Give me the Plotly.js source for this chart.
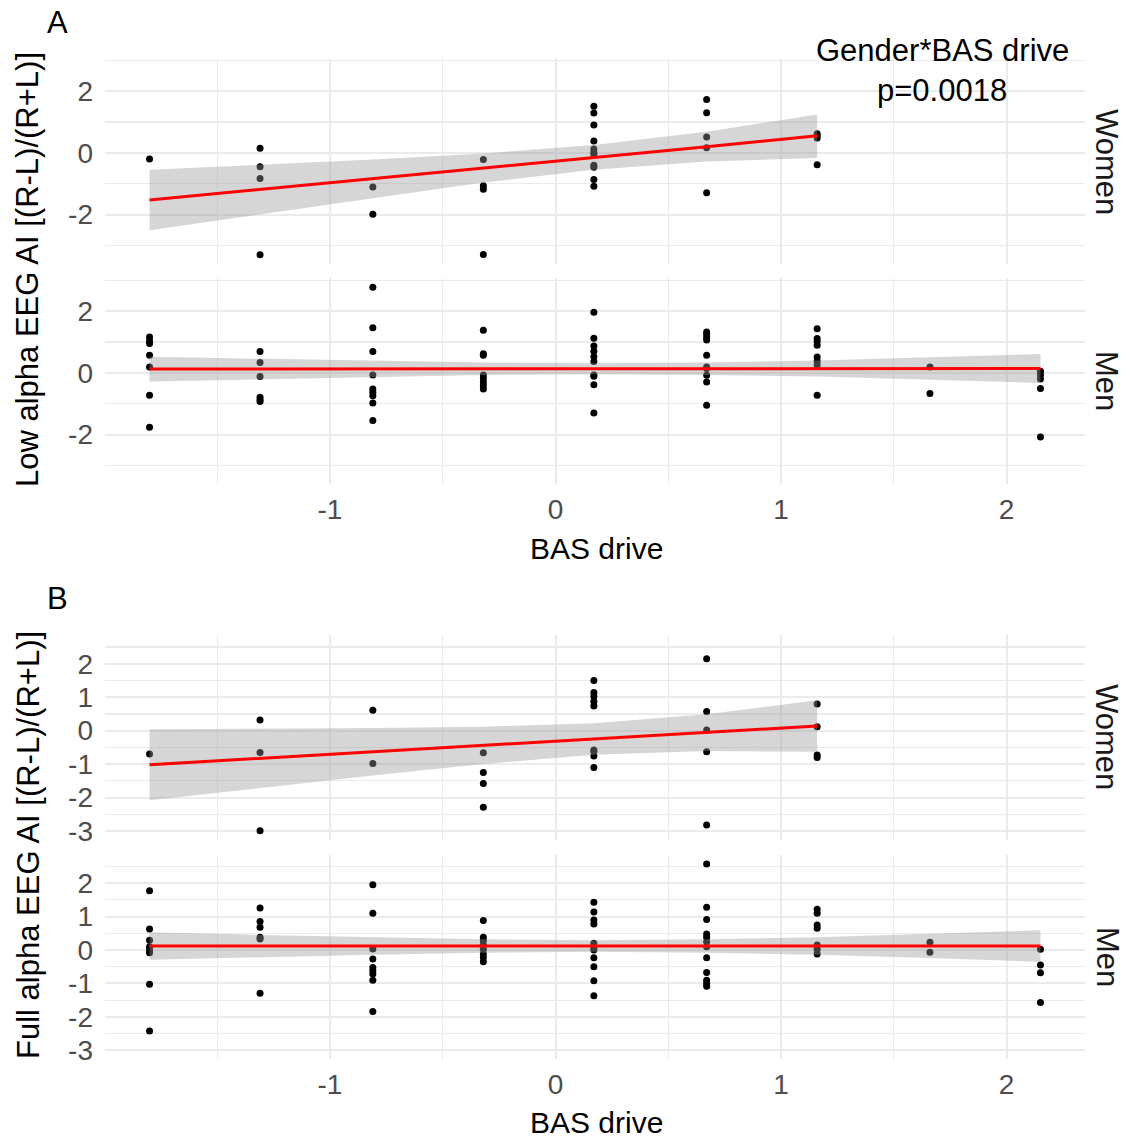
<!DOCTYPE html>
<html>
<head>
<meta charset="utf-8">
<script src="https://cdn.plot.ly/plotly-3.0.1.min.js"></script>
<style>html,body{margin:0;padding:0;background:#fff;} #chart{width:1129px;height:1141px;}</style>
</head>
<body>
<div id="chart"></div>
<script>
// BAS drive (standardised) levels
const basLevels = [-1.80, -1.31, -0.81, -0.32, 0.17, 0.67, 1.16, 1.66, 2.15];

// Panel A: Low alpha EEG AI, values per BAS level
const lowWomen = [
  [-0.20],
  [0.15, -0.45, -0.83, -3.30],
  [-1.11, -1.99],
  [-0.22, -1.07, -1.18, -3.29],
  [1.51, 1.29, 0.90, 0.38, 0.12, 0.02, -0.05, -0.40, -0.47, -0.86, -1.08],
  [1.73, 1.30, 0.51, 0.16, -1.29],
  [0.62, 0.55, 0.48, -0.39]
];
const lowMen = [
  [1.16, 1.03, 0.95, 0.57, 0.19, -0.73, -1.76],
  [0.69, 0.33, -0.12, -0.79, -0.87, -0.93],
  [2.77, 1.46, 0.69, -0.07, -0.52, -0.63, -0.74, -0.98, -1.54],
  [1.38, 0.62, 0.57, -0.07, -0.17, -0.30, -0.41, -0.52],
  [1.96, 1.12, 0.87, 0.70, 0.52, 0.37, -0.07, -0.11, -0.39, -1.30],
  [1.32, 1.24, 1.14, 1.06, 0.57, 0.19, 0.14, -0.08, -0.30, -1.05],
  [1.43, 1.11, 1.01, 0.89, 0.51, 0.38, 0.25, -0.73],
  [0.19, -0.67],
  [0.05, -0.07, -0.20, -0.51, -2.08]
];

// Panel B: Full alpha EEG AI
const fullWomen = [
  [-0.70],
  [0.32, -0.65, -2.99],
  [0.61, -0.98],
  [-0.66, -1.25, -1.58, -2.29],
  [1.50, 1.14, 1.02, 0.87, 0.74, -0.58, -0.62, -0.76, -1.10],
  [2.15, 0.57, 0.02, -0.63, -2.82],
  [0.80, 0.12, -0.73, -0.80]
];
const fullMen = [
  [1.77, 0.63, 0.29, 0.10, 0.00, -0.08, -1.02, -2.42],
  [1.26, 0.85, 0.68, 0.38, 0.33, -1.29],
  [1.95, 1.10, 0.03, -0.27, -0.52, -0.62, -0.72, -0.90, -1.84],
  [0.88, 0.38, 0.28, 0.15, 0.02, -0.12, -0.22, -0.35],
  [1.43, 1.14, 0.90, 0.78, 0.20, 0.07, 0.00, -0.23, -0.50, -0.92, -1.37],
  [2.57, 1.28, 0.91, 0.48, 0.38, 0.25, 0.10, -0.23, -0.67, -0.90, -1.00, -1.08],
  [1.22, 1.10, 0.75, 0.65, 0.15, 0.02, -0.12],
  [0.23, -0.07],
  [0.02, -0.45, -0.68, -1.57]
];

// Linear fits and 95% CI bands, read at each BAS level
const lowWomenFit = [-1.53, -1.19, -0.84, -0.49, -0.15, 0.20, 0.55];
const lowWomenLo  = [-2.51, -1.99, -1.46, -0.96, -0.55, -0.28, -0.17];
const lowWomenHi  = [-0.55, -0.39, -0.22, -0.02, 0.25, 0.68, 1.24];
const lowMenFit = [0.12, 0.12, 0.13, 0.13, 0.13, 0.13, 0.14, 0.14, 0.14];
const lowMenLo  = [-0.28, -0.21, -0.13, -0.07, -0.05, -0.07, -0.12, -0.22, -0.33];
const lowMenHi  = [0.52, 0.45, 0.39, 0.33, 0.31, 0.33, 0.40, 0.50, 0.61];
const fullWomenFit = [-1.02, -0.83, -0.63, -0.44, -0.25, -0.06, 0.14];
const fullWomenLo  = [-2.08, -1.71, -1.34, -1.00, -0.72, -0.61, -0.63];
const fullWomenHi  = [0.04, 0.05, 0.08, 0.12, 0.22, 0.49, 0.91];
const fullMenFit = [0.12, 0.12, 0.12, 0.12, 0.12, 0.12, 0.12, 0.12, 0.12];
const fullMenLo  = [-0.29, -0.21, -0.14, -0.08, -0.05, -0.08, -0.14, -0.24, -0.35];
const fullMenHi  = [0.53, 0.45, 0.38, 0.32, 0.29, 0.32, 0.38, 0.48, 0.59];

// Tick values and labels (ASCII hyphen as in the original)
const xTickVals = [-1, 0, 1, 2];
const xTickText = ['-1', '0', '1', '2'];
const yTickValsA = [-2, 0, 2];
const yTickTextA = ['-2', '0', '2'];
const yTickValsB = [-3, -2, -1, 0, 1, 2];
const yTickTextB = ['-3', '-2', '-1', '0', '1', '2'];

function panelTraces(groups, fit, lo, hi, xa, ya) {
  const px = [], py = [];
  groups.forEach((vals, i) => vals.forEach(v => { px.push(basLevels[i]); py.push(v); }));
  const fx = basLevels.slice(0, fit.length);
  return [
    {type: 'scatter', mode: 'markers', x: px, y: py, xaxis: xa, yaxis: ya,
     marker: {color: '#000000', size: 7}, hoverinfo: 'skip'},
    {type: 'scatter', mode: 'lines', x: fx.concat(fx.slice().reverse()),
     y: lo.concat(hi.slice().reverse()), xaxis: xa, yaxis: ya,
     fill: 'toself', fillcolor: 'rgba(153,153,153,0.4)', line: {width: 0}, hoverinfo: 'skip'},
    {type: 'scatter', mode: 'lines', x: fx, y: fit, xaxis: xa, yaxis: ya,
     line: {color: '#FF0000', width: 3}, hoverinfo: 'skip'}
  ];
}

const data = [].concat(
  panelTraces(lowWomen, lowWomenFit, lowWomenLo, lowWomenHi, 'x', 'y'),
  panelTraces(lowMen, lowMenFit, lowMenLo, lowMenHi, 'x2', 'y2'),
  panelTraces(fullWomen, fullWomenFit, fullWomenLo, fullWomenHi, 'x3', 'y3'),
  panelTraces(fullMen, fullMenFit, fullMenLo, fullMenHi, 'x4', 'y4')
);

const W = 1129, H = 1141;
const px = v => v / W, py = v => 1 - v / H;
const xDom = [px(105), px(1085)];
const grid = '#EBEBEB';
const font = 'Liberation Sans, Arial, sans-serif';

function xAxis(anchor, showLabels) {
  return {domain: xDom, anchor: anchor, range: [-1.9975, 2.3475],
    tickmode: 'array', tickvals: xTickVals, ticktext: xTickText,
    showticklabels: showLabels, ticks: '', showline: false, zeroline: false,
    gridcolor: grid, gridwidth: 2,
    minor: {tickvals: [-1.5, -0.5, 0.5, 1.5], showgrid: true, gridcolor: grid, gridwidth: 1.2, ticks: ''},
    tickfont: {family: font, size: 28, color: '#4D4D4D'}, ticklabelstandoff: 6};
}
function yAxis(anchor, dom, range, tv, tt, mv) {
  return {domain: dom, anchor: anchor, range: range, tickmode: 'array', tickvals: tv, ticktext: tt,
    ticks: '', showline: false, zeroline: false, gridcolor: grid, gridwidth: 2,
    minor: {tickvals: mv, showgrid: true, gridcolor: grid, gridwidth: 1.2, ticks: ''},
    tickfont: {family: font, size: 28, color: '#4D4D4D'}, ticklabelstandoff: 11};
}
const rangeA = [-3.6, 3.07], rangeB = [-3.27, 2.85];
const minorA = [-3, -1, 1, 3];
const minorB = [-2.5, -1.5, -0.5, 0.5, 1.5, 2.5];

function ann(text, x, y, size, angle, color) {
  return {text: text, xref: 'paper', yref: 'paper', x: px(x), y: py(y),
    xanchor: 'center', yanchor: 'middle', showarrow: false, textangle: angle || 0,
    font: {family: font, size: size, color: color || '#000000'}};
}

const layout = {
  width: W, height: H, margin: {l: 0, r: 0, t: 0, b: 0},
  paper_bgcolor: '#FFFFFF', plot_bgcolor: '#FFFFFF', showlegend: false, hovermode: false,
  xaxis: xAxis('y', false),
  xaxis2: xAxis('y2', true),
  xaxis3: xAxis('y3', false),
  xaxis4: xAxis('y4', true),
  yaxis: yAxis('x', [py(264), py(58)], rangeA, yTickValsA, yTickTextA, minorA),
  yaxis2: yAxis('x2', [py(484), py(278)], rangeA, yTickValsA, yTickTextA, minorA),
  yaxis3: yAxis('x3', [py(840), py(635.4)], rangeB, yTickValsB, yTickTextB, minorB),
  yaxis4: yAxis('x4', [py(1059.4), py(854.7)], rangeB, yTickValsB, yTickTextB, minorB),
  annotations: [
    ann('A', 58, 22, 31),
    ann('B', 58, 598, 31),
    ann('Gender*BAS drive', 942, 51, 31),
    ann('p=0.0018', 942, 90, 31),
    ann('Women', 1107, 162, 31, 90, '#1A1A1A'),
    ann('Men', 1107, 381, 31, 90, '#1A1A1A'),
    ann('Women', 1107, 737, 31, 90, '#1A1A1A'),
    ann('Men', 1107, 957, 31, 90, '#1A1A1A'),
    ann('Low alpha EEG AI [(R-L)/(R+L)]', 28, 270, 31, -90),
    ann('Full alpha EEG AI [(R-L)/(R+L)]', 28, 845, 31, -90),
    ann('BAS drive', 596, 548, 30),
    ann('BAS drive', 596, 1122, 30)
  ]
};

Plotly.newPlot('chart', data, layout, {staticPlot: true, displayModeBar: false});
</script>
</body>
</html>
